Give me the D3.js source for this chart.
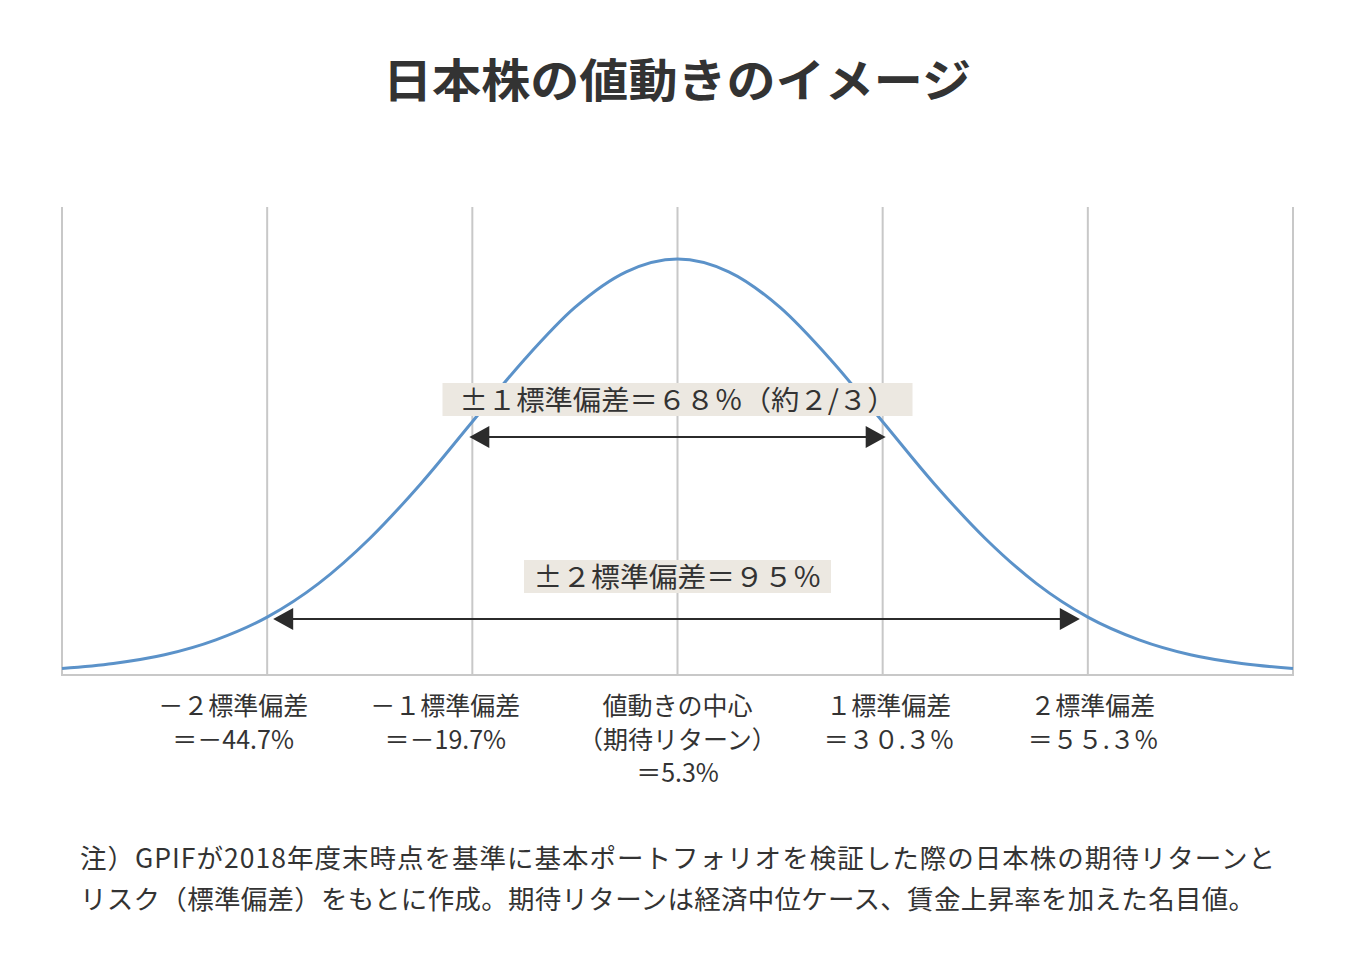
<!DOCTYPE html>
<html><head><meta charset="utf-8">
<script src="https://cdn.jsdelivr.net/npm/d3@7"></script>
<style>
body{margin:0;background:#fff;}
text{font-family:"Noto Sans CJK JP","Noto Sans",sans-serif;fill:#333;}
</style></head>
<body><svg id="c" width="1355" height="980"></svg>
<script>
// ---- data ----
const title = "日本株の値動きのイメージ";
const mean = 5.3;          // 期待リターン (%)
const sd = 25;             // 標準偏差 (%)
// curve: returns (%) and height relative to the peak
const curveReturns = [-69.7,-63.45,-57.2,-50.95,-44.7,-38.45,-32.2,-25.95,-19.7,-13.45,-7.2,-0.95,5.3,11.55,17.8,24.05,30.3,36.55,42.8,49.05,55.3,61.55,67.8,74.05,80.3];
const curveHeights = [0.011,0.023,0.044,0.080,0.135,0.216,0.325,0.458,0.607,0.755,0.883,0.969,1.0,0.969,0.883,0.755,0.607,0.458,0.325,0.216,0.135,0.080,0.044,0.023,0.011];
const gridReturns = [-69.7,-44.7,-19.7,5.3,30.3,55.3,80.3];
const tickReturns = [-44.7,-19.7,5.3,30.3,55.3];
const tickLabels = [
  ["－２標準偏差","＝－44.7%"],
  ["－１標準偏差","＝－19.7%"],
  ["値動きの中心","（期待リターン）","＝5.3%"],
  ["１標準偏差","＝３０.３%"],
  ["２標準偏差","＝５５.３%"]
];
const rangeFrom = [-19.7,-44.7];
const rangeTo = [30.3,55.3];
const rangeLabels = ["±１標準偏差＝６８％（約２/３）","±２標準偏差＝９５％"];
const notes = [
  "注）GPIFが2018年度末時点を基準に基本ポートフォリオを検証した際の日本株の期待リターンと",
  "リスク（標準偏差）をもとに作成。期待リターンは経済中位ケース、賃金上昇率を加えた名目値。"
];

// ---- drawing ----
const svg = d3.select("#c");
const x = d3.scaleLinear().domain([-69.7,80.3]).range([62,1293]);
const y = d3.scaleLinear().domain([0,1]).range([673,259]);
const gridTop = 207, gridBase = 675;

svg.append("text").attr("x",677).attr("y",97).attr("text-anchor","middle")
  .attr("font-size",46).attr("font-weight",700).attr("fill","#333")
  .attr("textLength",588).attr("lengthAdjust","spacingAndGlyphs").text(title);

// gridlines
svg.selectAll("line.g").data(gridReturns).join("line").attr("class","g")
  .attr("x1",d=>x(d)).attr("x2",d=>x(d)).attr("y1",gridTop).attr("y2",gridBase)
  .attr("stroke","#c8c8c8").attr("stroke-width",2);
svg.append("line").attr("x1",x(-69.7)-1).attr("x2",x(80.3)+1).attr("y1",gridBase).attr("y2",gridBase)
  .attr("stroke","#c8c8c8").attr("stroke-width",2);

// curve
const pts = curveReturns.map((r,i)=>[r,curveHeights[i]]);
svg.append("path").datum(pts)
  .attr("d",d3.line().x(d=>x(d[0])).y(d=>y(d[1])).curve(d3.curveMonotoneX))
  .attr("fill","none").attr("stroke","#5b92c9").attr("stroke-width",3);

// range arrows
const arrowY = [437,619];
const inset = [[-3,3],[6,-8]];
const boxY = [383,560];
const boxW = [470,307];
const textW = [436,288];
rangeLabels.forEach((lab,i)=>{
  const x1 = x(rangeFrom[i])+inset[i][0], x2 = x(rangeTo[i])+inset[i][1];
  const ay = arrowY[i];
  svg.append("line").attr("x1",x1+10).attr("x2",x2-10).attr("y1",ay).attr("y2",ay)
    .attr("stroke","#2b2b2b").attr("stroke-width",2);
  svg.append("path").attr("d",`M${x1},${ay} L${x1+20},${ay-11} L${x1+20},${ay+11} Z`).attr("fill","#2b2b2b");
  svg.append("path").attr("d",`M${x2},${ay} L${x2-20},${ay-11} L${x2-20},${ay+11} Z`).attr("fill","#2b2b2b");
  const cx = x(mean);
  svg.append("rect").attr("x",cx-boxW[i]/2).attr("y",boxY[i]).attr("width",boxW[i]).attr("height",33)
    .attr("fill","#ece8e1");
  svg.append("text").attr("x",cx).attr("y",boxY[i]+27).attr("text-anchor","middle")
    .attr("font-size",27.5).attr("textLength",textW[i]).attr("lengthAdjust","spacingAndGlyphs").text(lab);
});

// tick labels
const dxs = [-34,-27,0,6,5];
tickReturns.forEach((r,i)=>{
  const t = svg.append("text").attr("x",x(r)+dxs[i]).attr("y",715).attr("text-anchor","middle").attr("font-size",25);
  tickLabels[i].forEach((l,j)=>{
    t.append("tspan").attr("x",x(r)+dxs[i]).attr("y",715+j*33.5).text(l);
  });
});

// notes
const noteW = [1195,1175];
notes.forEach((n,i)=>{
  svg.append("text").attr("x",80).attr("y",868+i*41).attr("font-size",26.5)
    .attr("textLength",noteW[i]).attr("lengthAdjust","spacing").text(n);
});
</script></body></html>
